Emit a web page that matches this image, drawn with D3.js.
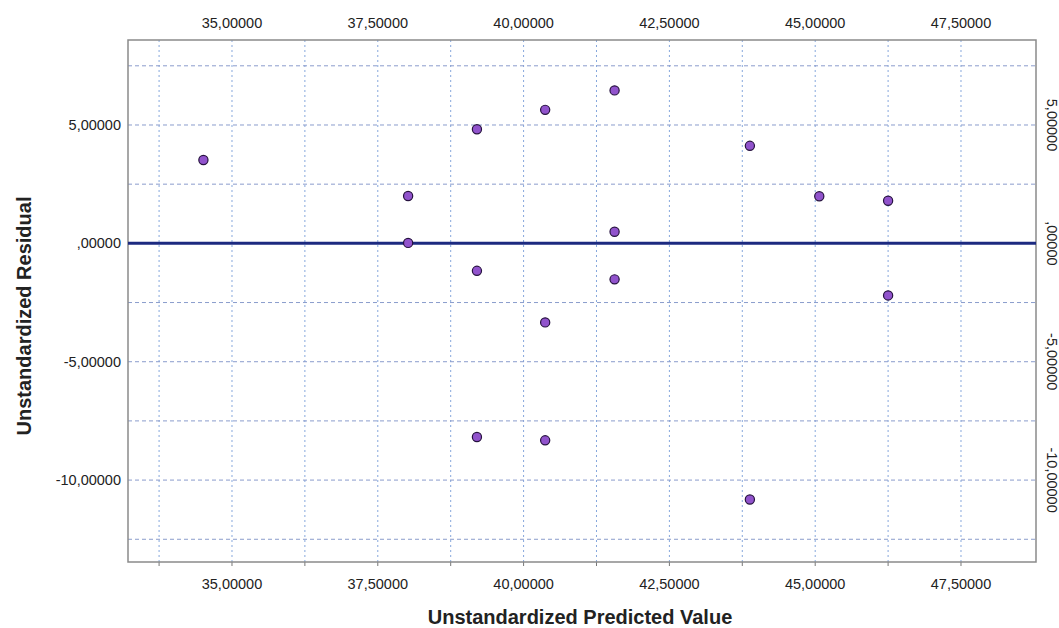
<!DOCTYPE html>
<html>
<head>
<meta charset="utf-8">
<script src="https://cdn.jsdelivr.net/npm/d3@7"></script>
<style>
  body { margin: 0; background: #fff; }
  svg { font-family: "Liberation Sans", Arial, sans-serif; }
</style>
</head>
<body>
<div id="chart"></div>
<script>
// values
const predicted = [34.51, 38.02, 38.02, 39.20, 39.20, 39.20, 40.37, 40.37, 40.37, 41.56, 41.56, 41.56, 43.88, 43.88, 45.07, 46.25, 46.25];
const residual  = [3.52, 2.00, 0.02, 4.82, -1.16, -8.18, 5.64, -3.34, -8.32, 6.46, 0.49, -1.52, 4.12, -10.82, 1.99, 1.80, -2.20];

const xTicks = [35, 37.5, 40, 42.5, 45, 47.5];
const xGrid = [33.75, 35, 36.25, 37.5, 38.75, 40, 41.25, 42.5, 43.75, 45, 46.25, 47.5];
const yTicks = [5, 0, -5, -10];
const yGrid = [7.5, 5, 2.5, 0, -2.5, -5, -7.5, -10, -12.5];
const refLine = 0;

const width = 1059, height = 628;
const margin = {top: 40, right: 23, bottom: 66, left: 128};

const svg = d3.select("#chart").append("svg")
  .attr("width", width)
  .attr("height", height);

const x = d3.scaleLinear()
  .domain([33.217, 48.786])
  .range([margin.left, width - margin.right]);
const y = d3.scaleLinear()
  .domain([-13.46, 8.59])
  .range([height - margin.bottom, margin.top]);

// SPSS style: comma decimal, no leading zero, plain hyphen
const fmt = v => d3.format(".5f")(v).replace("\u2212", "-").replace(".", ",").replace(/^0,/, ",");

// grid
const grid = svg.append("g");
grid.selectAll(".vg")
  .data(xGrid)
  .enter()
  .append("line")
  .attr("x1", d => x(d)).attr("x2", d => x(d))
  .attr("y1", y.range()[1]).attr("y2", y.range()[0])
  .attr("stroke", "#86a7dc")
  .attr("stroke-width", 1)
  .attr("stroke-dasharray", "2,3");
grid.selectAll(".hg")
  .data(yGrid)
  .enter()
  .append("line")
  .attr("x1", x.range()[0]).attr("x2", x.range()[1])
  .attr("y1", d => y(d)).attr("y2", d => y(d))
  .attr("stroke", "#8a9ccc")
  .attr("stroke-width", 1)
  .attr("stroke-dasharray", "4,3");

// small ticks below the frame
svg.append("g").selectAll("line")
  .data(xGrid)
  .enter()
  .append("line")
  .attr("x1", d => x(d)).attr("x2", d => x(d))
  .attr("y1", y.range()[0]).attr("y2", y.range()[0] + 4)
  .attr("stroke", "#777");

// frame
svg.append("rect")
  .attr("x", x.range()[0])
  .attr("y", y.range()[1])
  .attr("width", x.range()[1] - x.range()[0])
  .attr("height", y.range()[0] - y.range()[1])
  .attr("fill", "none")
  .attr("stroke", "#8a8a8a")
  .attr("stroke-width", 1.5);

// reference line at zero
svg.append("line")
  .attr("x1", x.range()[0]).attr("x2", x.range()[1])
  .attr("y1", y(refLine)).attr("y2", y(refLine))
  .attr("stroke", "#1c2a80")
  .attr("stroke-width", 3);

// points
svg.append("g").selectAll("circle")
  .data(predicted.map((p, i) => ({p: p, r: residual[i]})))
  .enter()
  .append("circle")
  .attr("cx", d => x(d.p))
  .attr("cy", d => y(d.r))
  .attr("r", 4.6)
  .attr("fill", "#9153cc")
  .attr("stroke", "#26123f")
  .attr("stroke-width", 1.2);

// tick labels
const labels = svg.append("g").attr("font-size", 14.5).attr("fill", "#222");
labels.selectAll(".xt")
  .data(xTicks)
  .enter()
  .append("text")
  .attr("x", d => x(d))
  .attr("y", 28)
  .attr("text-anchor", "middle")
  .text(fmt);
labels.selectAll(".xb")
  .data(xTicks)
  .enter()
  .append("text")
  .attr("x", d => x(d))
  .attr("y", 589)
  .attr("text-anchor", "middle")
  .text(fmt);
labels.selectAll(".yl")
  .data(yTicks)
  .enter()
  .append("text")
  .attr("x", 121)
  .attr("y", d => y(d) + 5)
  .attr("text-anchor", "end")
  .text(fmt);
labels.selectAll(".yr")
  .data(yTicks)
  .enter()
  .append("text")
  .attr("transform", d => "translate(1047," + y(d) + ") rotate(90)")
  .attr("text-anchor", "middle")
  .text(fmt);

// axis titles
svg.append("text")
  .attr("x", 580)
  .attr("y", 624)
  .attr("text-anchor", "middle")
  .attr("font-size", 20)
  .attr("font-weight", "bold")
  .attr("fill", "#222")
  .text("Unstandardized Predicted Value");
svg.append("text")
  .attr("transform", "translate(31,316) rotate(-90)")
  .attr("text-anchor", "middle")
  .attr("font-size", 20)
  .attr("font-weight", "bold")
  .attr("fill", "#222")
  .text("Unstandardized Residual");
</script>
</body>
</html>
